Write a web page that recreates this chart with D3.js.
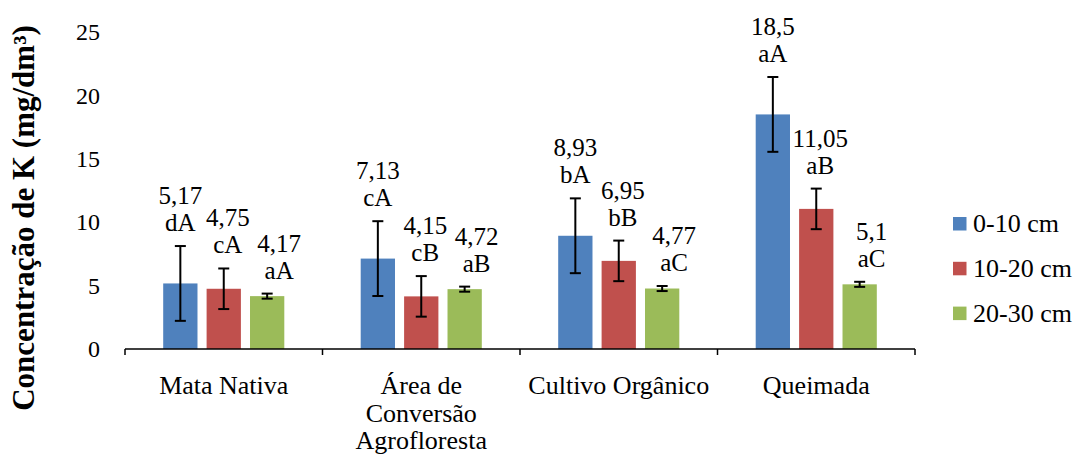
<!DOCTYPE html>
<html>
<head>
<meta charset="utf-8">
<script src="https://cdn.jsdelivr.net/npm/d3@7/dist/d3.min.js"></script>
<style>
  html, body { margin: 0; padding: 0; background: #fff; }
  svg { display: block; }
  svg text { font-family: "Liberation Serif", "Times New Roman", Times, serif; }
</style>
</head>
<body>
<svg id="chart" width="1076" height="454"></svg>
<script>
// Sampling areas (x categories), split into lines for the axis labels
const categories = ["Mata Nativa", "Área de Conversão Agrofloresta", "Cultivo Orgânico", "Queimada"];
const categoryLines = [["Mata Nativa"], ["Área de", "Conversão", "Agrofloresta"], ["Cultivo Orgânico"], ["Queimada"]];

// Soil depth layers
const series = ["0-10 cm", "10-20 cm", "20-30 cm"];
const seriesColors = ["#4F81BD", "#C0504D", "#9BBB59"];

// K concentration (mg/dm³) per depth, one value per area
const k0_10  = [5.17, 7.13, 8.93, 18.5];
const k10_20 = [4.75, 4.15, 6.95, 11.05];
const k20_30 = [4.17, 4.72, 4.77, 5.1];

// Error bar half-widths per depth, one value per area
const err0_10  = [2.95, 2.95, 2.95, 2.95];
const err10_20 = [1.6, 1.6, 1.6, 1.6];
const err20_30 = [0.2, 0.2, 0.2, 0.2];

// Statistical letters shown under each value
const let0_10  = ["dA", "cA", "bA", "aA"];
const let10_20 = ["cA", "cB", "bB", "aB"];
const let20_30 = ["aA", "aB", "aC", "aC"];

const yTicks = [0, 5, 10, 15, 20, 25];

const values = [k0_10, k10_20, k20_30];
const errors = [err0_10, err10_20, err20_30];
const letters = [let0_10, let10_20, let20_30];

const data = [];
categories.forEach((c, ci) => {
  series.forEach((s, si) => {
    data.push({ cat: c, ser: s, si, value: values[si][ci], err: errors[si][ci], letter: letters[si][ci] });
  });
});

const FONT = "Liberation Serif";
const svg = d3.select("#chart");
const plotLeft = 125, plotRight = 915, plotTop = 32, plotBottom = 349;

const x = d3.scaleBand().domain(categories).range([plotLeft, plotRight]).padding(0);
const xs = d3.scaleBand().domain(series).range([0, x.bandwidth()]).paddingInner(0.21).paddingOuter(0.88);
const y = d3.scaleLinear().domain([0, 25]).range([plotBottom, plotTop]);

// Y axis: tick labels only
const yAxis = svg.append("g")
  .attr("transform", `translate(${plotLeft},0)`)
  .call(d3.axisLeft(y).tickValues(yTicks).tickSize(0).tickPadding(25).tickFormat(d3.format("d")));
yAxis.attr("font-family", FONT).attr("font-size", 24);
yAxis.select(".domain").remove();
yAxis.selectAll("text").attr("font-family", FONT).attr("font-size", 24).attr("fill", "#000");

// Y axis title
svg.append("text")
  .attr("transform", "translate(34,218) rotate(-90)")
  .attr("text-anchor", "middle")
  .attr("font-family", FONT)
  .attr("font-size", 31)
  .attr("font-weight", "bold")
  .attr("fill", "#000")
  .text("Concentração de K (mg/dm³)");

// Bars
const g = svg.append("g");
g.selectAll("rect")
  .data(data)
  .join("rect")
  .attr("x", d => x(d.cat) + xs(d.ser))
  .attr("y", d => y(d.value))
  .attr("width", xs.bandwidth())
  .attr("height", d => y(0) - y(d.value))
  .attr("fill", d => seriesColors[d.si]);

// Error bars
const capHalf = 5.5;
const cx = d => x(d.cat) + xs(d.ser) + xs.bandwidth() / 2;
const eb = g.selectAll("g.err").data(data).join("g").attr("class", "err")
  .attr("stroke", "#000").attr("stroke-width", 2);
eb.append("line")
  .attr("x1", cx).attr("x2", cx)
  .attr("y1", d => y(d.value + d.err))
  .attr("y2", d => y(d.value - d.err));
eb.append("line")
  .attr("x1", d => cx(d) - capHalf).attr("x2", d => cx(d) + capHalf)
  .attr("y1", d => y(d.value + d.err)).attr("y2", d => y(d.value + d.err));
eb.append("line")
  .attr("x1", d => cx(d) - capHalf).attr("x2", d => cx(d) + capHalf)
  .attr("y1", d => y(d.value - d.err)).attr("y2", d => y(d.value - d.err));

// Value + letter labels above the error bars
const labelShift = [0, 4, 12];
const fmt = v => String(v).replace(".", ",");
const lab = g.selectAll("text.val").data(data).join("text").attr("class", "val")
  .attr("text-anchor", "middle")
  .attr("font-family", FONT)
  .attr("font-size", 25)
  .attr("fill", "#000");
lab.append("tspan")
  .attr("x", d => cx(d) + labelShift[d.si])
  .attr("y", d => y(d.value + d.err) - 42)
  .text(d => fmt(d.value));
lab.append("tspan")
  .attr("x", d => cx(d) + labelShift[d.si])
  .attr("y", d => y(d.value + d.err) - 15)
  .text(d => d.letter);

// X axis line with boundary ticks
const xAxis = svg.append("g").attr("stroke", "#000").attr("stroke-width", 1.5);
xAxis.append("line").attr("x1", plotLeft).attr("x2", plotRight).attr("y1", plotBottom).attr("y2", plotBottom);
const bounds = categories.map(c => x(c)).concat([x(categories[categories.length - 1]) + x.bandwidth()]);
xAxis.selectAll("line.tk").data(bounds).join("line").attr("class", "tk")
  .attr("x1", d => d).attr("x2", d => d).attr("y1", plotBottom).attr("y2", plotBottom + 6);

// Category labels
const cl = svg.append("g").selectAll("text").data(categories).join("text")
  .attr("text-anchor", "middle")
  .attr("font-family", FONT)
  .attr("font-size", 26)
  .attr("fill", "#000");
cl.each(function (c, i) {
  const t = d3.select(this);
  categoryLines[i].forEach((line, li) => {
    t.append("tspan")
      .attr("x", x(c) + x.bandwidth() / 2)
      .attr("y", 394 + li * 27.5)
      .text(line);
  });
});

// Legend
const lg = svg.append("g").selectAll("g").data(series).join("g")
  .attr("transform", (d, i) => `translate(953,${223.5 + i * 44.8})`);
lg.append("rect").attr("x", 0).attr("y", -6.5).attr("width", 13.5).attr("height", 13.5)
  .attr("fill", (d, i) => seriesColors[i]);
lg.append("text").attr("x", 20).attr("y", 8.5)
  .attr("font-family", FONT).attr("font-size", 26).attr("fill", "#000").text(d => d);
</script>
</body>
</html>
